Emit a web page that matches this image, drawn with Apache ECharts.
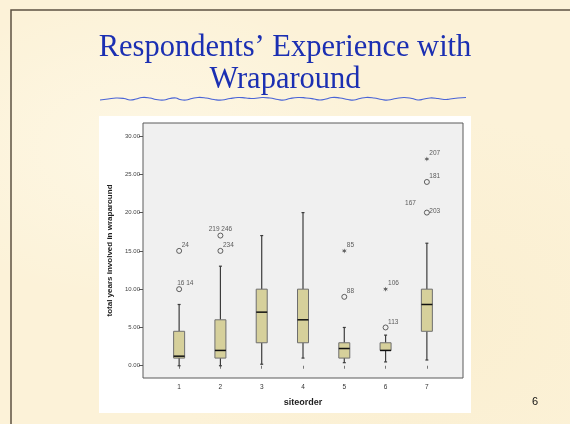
<!DOCTYPE html>
<html>
<head>
<meta charset="utf-8">
<script src="https://cdn.jsdelivr.net/npm/echarts@6/dist/echarts.min.js"></script>
<style>
  html, body { margin: 0; padding: 0; }
  body {
    width: 570px; height: 424px; overflow: hidden;
    background:
      radial-gradient(ellipse at 25% 35%, rgba(255,252,240,0.5), rgba(255,252,240,0) 40%),
      radial-gradient(ellipse at 75% 75%, rgba(245,228,185,0.25), rgba(245,228,185,0) 45%),
      #fcf2d8;
  }
  #chart { width: 570px; height: 424px; }
</style>
</head>
<body>
<div id="chart"></div>
<script>
// box plot summary per site
const sites = [1, 2, 3, 4, 5, 6, 7];
const whiskerLow = [0, 0, 0.2, 1, 0.4, 0.5, 0.75];
const lowerQuartile = [1, 1, 3, 3, 1, 2, 4.5];
const median = [1.25, 2, 7, 6, 2.25, 2, 8];
const upperQuartile = [4.5, 6, 10, 10, 3, 3, 10];
const whiskerHigh = [8, 13, 17, 20, 5, 4, 16];

// outliers: circle = outlier, star = extreme
const outlierSite = [1, 1, 2, 2, 5, 5, 6, 6, 7, 7, 7, 7];
const outlierValue = [15, 10, 17, 15, 15, 9, 10, 5, 27, 24, 20, 20];
const outlierKind = ['circle', 'circle', 'circle', 'circle', 'star', 'circle', 'star', 'circle', 'star', 'circle', 'circle', 'none'];
const outlierLabel = ['24', '16 14', '219 246', '234', '85', '88', '106', '113', '207', '181', '203', '167'];

const yTicks = [0, 5, 10, 15, 20, 25, 30];

// where each case label sits next to its marker
const labelPlace = {
  '16 14': { offset: [-2, -5.5], align: 'left' },
  '219 246': { offset: [0, -6], align: 'center' },
  '203': { offset: [2.5, -1], align: 'left' },
  '167': { offset: [-11, -9], align: 'right' }
};

const boxFill = '#d6d09b';
const boxLine = '#6e6e6e';
const darkLine = '#3c3c3c';
const starPath = 'path://M0,-5 L1.2,-1.6 L4.6,-2.6 L2,0 L4.6,2.6 L1.2,1.6 L0,5 L-1.2,1.6 L-4.6,2.6 L-2,0 L-4.6,-2.6 L-1.2,-1.6 Z';

const boxData = sites.map((s, i) => [s, whiskerLow[i], lowerQuartile[i], median[i], upperQuartile[i], whiskerHigh[i]]);

const outlierData = outlierSite.map((s, i) => {
  const kind = outlierKind[i];
  const place = labelPlace[outlierLabel[i]] || { offset: [2.5, -5.5], align: 'left' };
  let itemStyle = { color: 'rgba(0,0,0,0)', borderColor: darkLine, borderWidth: 1 };
  if (kind === 'star') itemStyle = { color: darkLine, borderWidth: 0 };
  if (kind === 'none') itemStyle = { color: 'rgba(0,0,0,0)', borderWidth: 0 };
  return {
    value: [s, outlierValue[i]],
    symbol: kind === 'star' ? starPath : 'circle',
    symbolSize: 5,
    itemStyle: itemStyle,
    label: {
      show: true,
      formatter: outlierLabel[i],
      position: 'inside',
      align: place.align,
      verticalAlign: 'middle',
      offset: place.offset
    }
  };
});

function renderBox(params, api) {
  const x = api.value(0);
  const lo = api.coord([x, api.value(1)]);
  const q1 = api.coord([x, api.value(2)]);
  const md = api.coord([x, api.value(3)]);
  const q3 = api.coord([x, api.value(4)]);
  const hi = api.coord([x, api.value(5)]);
  const half = 5.5;
  const cap = 1.5;
  const wStyle = { stroke: darkLine, lineWidth: 1.2 };
  return {
    type: 'group',
    children: [
      { type: 'line', shape: { x1: hi[0], y1: hi[1], x2: q3[0], y2: q3[1] }, style: wStyle },
      { type: 'line', shape: { x1: q1[0], y1: q1[1], x2: lo[0], y2: lo[1] }, style: wStyle },
      { type: 'line', shape: { x1: hi[0] - cap, y1: hi[1], x2: hi[0] + cap, y2: hi[1] }, style: wStyle },
      { type: 'line', shape: { x1: lo[0] - cap, y1: lo[1], x2: lo[0] + cap, y2: lo[1] }, style: wStyle },
      {
        type: 'rect',
        shape: { x: q3[0] - half, y: q3[1], width: half * 2, height: q1[1] - q3[1] },
        style: { fill: boxFill, stroke: boxLine, lineWidth: 1 }
      },
      { type: 'line', shape: { x1: md[0] - half, y1: md[1], x2: md[0] + half, y2: md[1] }, style: { stroke: '#111', lineWidth: 1.5 } }
    ]
  };
}

// wavy rule under the title
const wavePoints = [
  [100,100],[108,99],[116,98],[124,98.5],[130,100],[136,99],[142,97.5],[150,98],[156,99.5],[164,100],
  [170,98.5],[176,98],[180,99.5],[186,100],[192,98.5],[198,97.5],[206,98],[214,99.5],[222,100],[230,98.5],
  [238,97.5],[246,98],[254,98.5],[262,97.5],[270,98],[278,99.5],[284,100],[290,98.5],[298,97.5],[306,98],
  [314,99],[320,100],[326,99],[332,97.5],[340,98],[348,99.5],[354,100],[360,98.5],[366,97.5],[374,98],
  [382,99.5],[388,100],[396,98.5],[404,97.5],[412,98.5],[418,100],[424,99],[430,98],[438,98.5],[444,99.5],
  [450,99],[458,98],[466,97.5]
];

const chart = echarts.init(document.getElementById('chart'));
chart.setOption({
  backgroundColor: 'transparent',
  animation: false,
  textStyle: { fontFamily: 'Liberation Sans, Arial, sans-serif' },
  graphic: [
    { type: 'rect', z: -10, shape: { x: 11, y: 10, width: 600, height: 450 }, style: { fill: 'rgba(0,0,0,0)', stroke: '#5c5142', lineWidth: 1.5 } },
    { type: 'rect', z: -5, shape: { x: 99, y: 116, width: 372, height: 297 }, style: { fill: '#ffffff' } },
    {
      type: 'text', left: 'center', top: 32,
      style: { text: 'Respondents\u2019 Experience with', fill: '#1b2fb2', font: '30.5px "Liberation Serif", "Times New Roman", serif', textAlign: 'center' }
    },
    {
      type: 'text', left: 'center', top: 64,
      style: { text: 'Wraparound', fill: '#1b2fb2', font: '30.5px "Liberation Serif", "Times New Roman", serif', textAlign: 'center' }
    },
    { type: 'polyline', shape: { points: wavePoints, smooth: 0.5 }, style: { stroke: '#4a64d6', lineWidth: 1.2, fill: null } },
    { type: 'text', x: 532, y: 396, style: { text: '6', fill: '#111', font: '11px "Liberation Sans", Arial, sans-serif' } }
  ],
  grid: {
    left: 143, top: 123, right: 107, bottom: 46,
    show: true, backgroundColor: '#f0f0f0', borderColor: '#5a5a5a', borderWidth: 1
  },
  xAxis: {
    type: 'value', min: 0.125, max: 7.875,
    name: 'siteorder', nameLocation: 'middle', nameGap: 20,
    nameTextStyle: { fontSize: 9, fontWeight: 'bold', color: '#222' },
    axisLine: { show: false },
    splitLine: { show: false },
    axisTick: { show: true, length: 3, customValues: sites, lineStyle: { color: '#777' } },
    axisLabel: { customValues: sites, fontSize: 6.5, color: '#333', margin: 6, formatter: v => String(v) }
  },
  yAxis: {
    type: 'value', min: -1.6, max: 31.7,
    name: 'total years involved in wraparound', nameLocation: 'middle', nameRotate: 90, nameGap: 23,
    nameTextStyle: { fontSize: 8, fontWeight: 'bold', color: '#222' },
    axisLine: { show: false },
    splitLine: { show: false },
    axisTick: { show: true, length: 4, customValues: yTicks, lineStyle: { color: '#555' } },
    axisLabel: { customValues: yTicks, fontSize: 6, color: '#444', margin: 3, formatter: v => v.toFixed(2) }
  },
  series: [
    {
      type: 'custom',
      renderItem: renderBox,
      data: boxData,
      encode: { x: 0, y: [1, 2, 3, 4, 5] },
      z: 2
    },
    {
      type: 'scatter',
      data: outlierData,
      z: 3,
      label: { fontSize: 6.5, color: '#333' }
    }
  ]
});
</script>
</body>
</html>
